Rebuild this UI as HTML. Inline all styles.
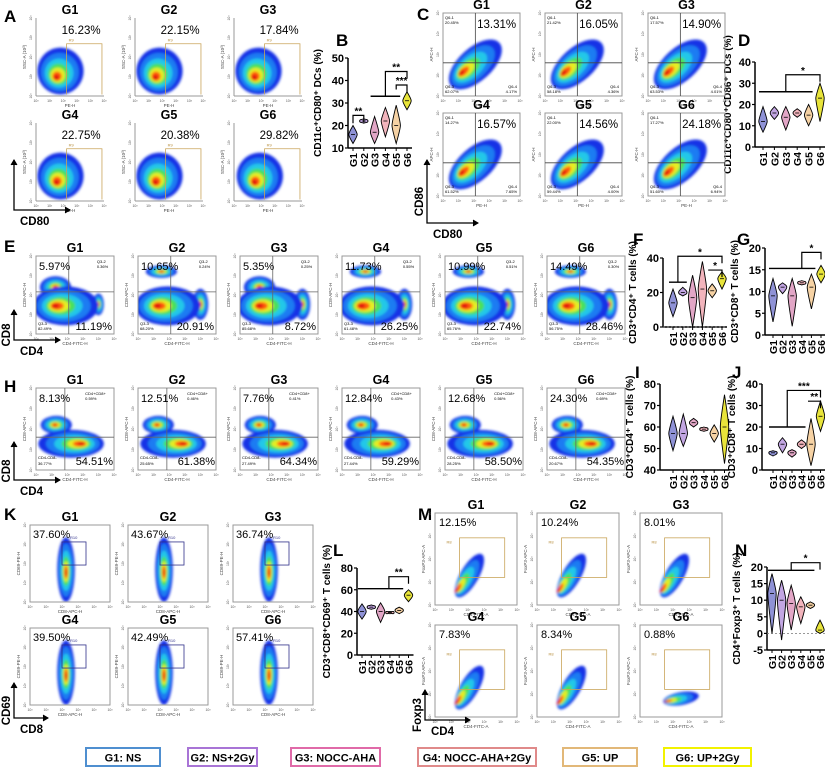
<!DOCTYPE html>
<html><head><meta charset="utf-8">
<style>
html,body{margin:0;padding:0;background:#fff;}
svg{display:block;font-family:"Liberation Sans",Arial,sans-serif;}
</style></head>
<body>
<svg id="fig" width="825" height="768" viewBox="0 0 825 768" xmlns="http://www.w3.org/2000/svg">
<defs>
<filter id="bl" x="-20%" y="-20%" width="140%" height="140%"><feGaussianBlur stdDeviation="1.2"/></filter>
</defs>
</svg>
<script>
// ---------- violin chart data ----------
const groups = ["G1","G2","G3","G4","G5","G6"];
const bMin=[12,21,12,15,12,27], bMax=[20,23,24,28,29,35], bMed=[16,22,17,22,20,31];
const dMin=[7,13,8,14,10,12], dMax=[19,19,19,18,20,30], dMed=[12,16,14,16,15,23];
const fMin=[6,18,0,0,17,22], fMax=[22,23,30,38,25,32], fMed=[14,20,17,22,21,28];
const gMin=[3,9.5,2,11.5,6,12], gMax=[13,12,13,12.5,14,16], gMed=[9,11,9,12,11,14];
const iMin=[49,51,60,58,53,43], iMax=[65,66,64,60,61,75], iMed=[57,57,62,59,57,60];
const jMin=[6.5,8,6,10,2,18], jMax=[9,15,9.5,14,24,32], jMed=[8,12,8,12,12,25];
const lMin=[33,42,30,38,38,49], lMax=[47,46,48,40,44,60], lMed=[40,44,40,39,41,55];
const nMin=[0,-2,1,3,7.5,0], nMax=[18,16,14.5,11,9.5,4], nMed=[12,10,9,8,8.5,1];
const bTicks=[10,20,30,40,50], dTicks=[0,10,20,30,40], fTicks=[0,20,40], gTicks=[0,5,10,15,20];
const iTicks=[40,50,60,70,80], jTicks=[0,10,20,30,40], lTicks=[0,20,40,60,80], nTicks=[-5,0,5,10,15,20];
// ---------- flow percentages ----------
const aPct=["16.23%","22.15%","17.84%","22.75%","20.38%","29.82%"];
const cPct=["13.31%","16.05%","14.90%","16.57%","14.56%","24.18%"];
const cQ1=["20.45%","21.42%","17.57%","14.27%","22.00%","17.27%"];
const cQ3=["62.07%","58.18%","63.53%","61.52%","59.44%","51.60%"];
const cQ4=["4.17%","4.36%","4.01%","7.65%","4.00%","6.94%"];
const eTL=["5.97%","10.65%","5.35%","11.73%","10.99%","14.49%"];
const eBR=["11.19%","20.91%","8.72%","26.25%","22.74%","28.46%"];
const eTR=["0.36%","0.24%","0.25%","0.55%","0.51%","0.30%"];
const eBL=["82.49%","68.20%","85.68%","61.48%","65.76%","56.75%"];
const hTL=["8.13%","12.51%","7.76%","12.84%","12.68%","24.30%"];
const hBR=["54.51%","61.38%","64.34%","59.29%","58.50%","54.35%"];
const hTR=["0.59%","0.46%","0.41%","0.43%","0.56%","0.69%"];
const hBL=["36.77%","25.65%","27.49%","27.44%","28.25%","20.67%"];
const kPct=["37.60%","43.67%","36.74%","39.50%","42.49%","57.41%"];
const mPct=["12.15%","10.24%","8.01%","7.83%","8.34%","0.88%"];
const legendLabels=["G1: NS","G2: NS+2Gy","G3: NOCC-AHA","G4: NOCC-AHA+2Gy","G5: UP","G6: UP+2Gy"];

const NS="http://www.w3.org/2000/svg";
const svg=document.getElementById('fig');
const vFill=["#8f92d6","#c2a6e2","#e2a6c6","#f2b4bc","#f6d2a4","#e8e43a"];
const legCol=["#4f8fd0","#a874d6","#e06aa8","#e08a8a","#e2b878","#f2f200"];
function el(tag,attrs,parent,text){const e=document.createElementNS(NS,tag);for(const k in attrs)e.setAttribute(k,attrs[k]);if(text!==undefined)e.textContent=text;(parent||svg).appendChild(e);return e;}
function txt(x,y,s,size,opts,parent){const o=Object.assign({x:x,y:y,'font-size':size,fill:'#000'},opts||{});return el('text',o,parent,s);}

// panel letters
[["A",4,22],["B",336,46],["C",417,20],["D",738,46],["E",4,252],["F",633,245],["G",737,245],["H",4,392],["I",635,378],["J",732,378],["K",4,520],["L",333,556],["M",418,520],["N",735,556]].forEach(p=>{
  const t=txt(p[1],p[2],p[0],17,{'font-weight':'bold'});
  
  
});

// ---------- violin charts ----------
function violin(id,ax,yTop,yBot,x0,step,ticks,mins,maxs,meds,title,sig,dotted,titleOff){
  const g=el('g',{},svg);
  
  
  const lo=ticks[0],hi=ticks[ticks.length-1];
  const Y=v=>yBot-(v-lo)/(hi-lo)*(yBot-yTop);
  const X=i=>x0+i*step;
  el('line',{x1:ax,y1:yTop,x2:ax,y2:yBot,stroke:'#000','stroke-width':1.5},g);
  el('line',{x1:ax,y1:yBot,x2:X(5)+5,y2:yBot,stroke:'#000','stroke-width':1.5},g);
  let maxw=0;
  ticks.forEach(t=>{
    el('line',{x1:ax-3,y1:Y(t),x2:ax,y2:Y(t),stroke:'#000','stroke-width':1.2},g);
    const tl=txt(ax-4,Y(t)+4,String(t),11,{'text-anchor':'end','font-weight':'bold'},g);
    
    
    maxw=Math.max(maxw,String(t).length);
  });
  if(dotted){el('line',{x1:ax,y1:Y(0),x2:X(5)+5,y2:Y(0),stroke:'#777','stroke-width':0.8,'stroke-dasharray':'2,2'},g);}
  groups.forEach((c,i)=>{
    el('line',{x1:X(i),y1:yBot,x2:X(i),y2:yBot+3,stroke:'#000'},g);
    const cl=txt(X(i)+4,yBot+5,c,10.5,{'font-weight':'bold','text-anchor':'end',transform:`rotate(-90 ${X(i)+4} ${yBot+5})`},g);
    
    
    const t=Y(maxs[i]),b=Y(mins[i]),m=Y(meds[i]);const w=4.2;
    const p=el('path',{d:`M${X(i)},${t} C${X(i)+w*0.6},${(t+m)/2} ${X(i)+w},${m-2} ${X(i)+w},${m} C${X(i)+w},${m+2} ${X(i)+w*0.6},${(m+b)/2} ${X(i)},${b} C${X(i)-w*0.6},${(m+b)/2} ${X(i)-w},${m+2} ${X(i)-w},${m} C${X(i)-w},${m-2} ${X(i)-w*0.6},${(t+m)/2} ${X(i)},${t}Z`,fill:vFill[i],stroke:'#000','stroke-width':0.9},g);
    
    
    el('line',{x1:X(i)-2,y1:m,x2:X(i)+2,y2:m,stroke:'#000','stroke-width':0.8},g);
  });
  const off=titleOff||(maxw*6.5+14);
  const yt=txt(0,0,title,10,{'font-weight':'bold','text-anchor':'middle',transform:`translate(${ax-off},${(yTop+yBot)/2}) rotate(-90)`},g);
  
  
  sig.forEach(s=>{
    if(s[0]==='line'){el('line',{x1:X(s[1])-4,y1:Y(s[3]),x2:X(s[2])+4,y2:Y(s[3]),stroke:'#000','stroke-width':1.4},g);}
    else{
      const xa=s[5]!==undefined?s[5]:X(s[1]);const yb=s[6]!==undefined?Y(s[6]):Y(s[3])+6;
      el('path',{d:`M${xa},${yb} V${Y(s[3])} H${X(s[2])} V${Y(s[3])+7}`,fill:'none',stroke:'#000','stroke-width':1.2},g);
      const st=txt((xa+X(s[2]))/2,Y(s[3])-1,s[4],10,{'text-anchor':'middle','font-weight':'bold'},g);
      
      
    }
  });
}
const sx=(x0,step,i)=>x0+i*step;
violin('b',348,58,148,353,10.8,bTicks,bMin,bMax,bMed,'CD11c\u207aCD80\u207a DCs (%)',
  [['br',0,1,24.5,'**',sx(353,10.8,0),21],['line',2,4,33],['br',3,5,44,'**',sx(353,10.8,3),33],['br',4,5,38,'***',sx(353,10.8,4),36]]);
violin('d',755,62,147,763,11.4,dTicks,dMin,dMax,dMed,'CD11c\u207aCD80\u207aCD86\u207a DCs (%)',
  [['line',0,4,26],['br',2,5,34,'*',sx(763,11.4,2),26]],false,24);
violin('f',663,258,327,673,9.8,fTicks,fMin,fMax,fMed,'CD3\u207aCD4\u207a T cells (%)',
  [['line',0,1,26],['br',0,5,41,'*',sx(673,9.8,0.5),26],['br',4,5,33,'*',sx(673,9.8,4)-4,33]],true);
violin('g',765,248,335,773,9.6,gTicks,gMin,gMax,gMed,'CD3\u207aCD8\u207a T cells (%)',
  [['line',0,4,15.3],['br',3,5,19,'*',sx(773,9.6,3),15.3]]);
violin('i',660,384,470,673,10.3,iTicks,iMin,iMax,iMed,'CD3\u207aCD4\u207a T cells (%)',[]);
violin('j',762,384,470,773,9.5,jTicks,jMin,jMax,jMed,'CD3\u207aCD8\u207a T cells (%)',
  [['line',0,3,20],['br',1.5,5,37,'***',sx(773,9.5,1.5),20],['br',4,5,32,'**',sx(773,9.5,4)-3,32]]);
violin('l',357,568,655,362,9.3,lTicks,lMin,lMax,lMed,'CD3\u207aCD8\u207aCD69\u207a T cells (%)',
  [['line',0,4,61],['br',3,5,72,'**',sx(362,9.3,3)-1,61]]);
violin('n',767,567,650,772,9.6,nTicks,nMin,nMax,nMed,'CD4\u207aFoxp3\u207a T cells (%)',
  [['line',0,4,19],['br',2,5,21.3,'*',sx(772,9.6,2),19]],true);

// ---------- flow plots ----------
const layerCols=["#1633e6","#1f7cf2","#22c8e8","#48e05a","#e6ee22","#ff5a10","#e01010"];
const layerScale=[1,0.82,0.62,0.45,0.32,0.2,0.11];
function blob(g,cx,cy,rx,ry,hx,hy,rot,sc){
  const n=layerCols.length;
  layerCols.forEach((c,k)=>{
    const f=k/(n-1);const s=layerScale[k]*(sc||1);
    const x=cx+(hx-cx)*f, y=cy+(hy-cy)*f;
    el('ellipse',{cx:x,cy:y,rx:rx*s,ry:ry*s,fill:c,transform:`rotate(${rot||0} ${x} ${y})`},g);
  });
}
function flowFrame(name,x,y,w,h,title,full,xl,yl){
  const g=el('g',{},svg);
  
  
  const t=txt(x+w/2,y-4,title,12.5,{'text-anchor':'middle','font-weight':'bold'},g);
  
  
  const cid='clip'+name;
  const cp=el('clipPath',{id:cid},g);el('rect',{x:x,y:y,width:w,height:h},cp);
  const bg=el('g',{filter:'url(#bl)','clip-path':`url(#${cid})`},g);
  if(full)el('rect',{x:x,y:y,width:w,height:h,fill:'none',stroke:'#999','stroke-width':1},g);
  else{el('line',{x1:x,y1:y,x2:x,y2:y+h,stroke:'#999'},g);el('line',{x1:x,y1:y+h,x2:x+w,y2:y+h,stroke:'#999'},g);}
  txt(x+w/2,y+h+11,xl,4.5,{'text-anchor':'middle',fill:'#444'},g);
  txt(0,0,yl,4.5,{'text-anchor':'middle',fill:'#444',transform:`translate(${x-10},${y+h/2}) rotate(-90)`},g);
  for(let k=0;k<6;k++){txt(x+k*w/5,y+h+6,'10\u00b3',3.5,{'text-anchor':'middle',fill:'#555'},g);}
  for(let k=0;k<5;k++){txt(0,0,'10\u00b3',3.5,{fill:'#555','text-anchor':'middle',transform:`translate(${x-4},${y+h-k*h/4}) rotate(-90)`},g);}
  return {g:g,bg:bg};
}
function arrowAxes(name,x,yTop,yBot,xRight,vlab,hlab){
  const g=el('g',{},svg);
  
  
  el('path',{d:`M${x},${yTop} V${yBot} H${xRight}`,fill:'none',stroke:'#000','stroke-width':1.3},g);
  el('path',{d:`M${x-3},${yTop+5} L${x},${yTop} L${x+3},${yTop+5}`,fill:'#000',stroke:'#000'},g);
  el('path',{d:`M${xRight-5},${yBot-3} L${xRight},${yBot} L${xRight-5},${yBot+3}`,fill:'#000',stroke:'#000'},g);
  txt(0,0,vlab,11.5,{'font-weight':'bold','text-anchor':'middle',transform:`translate(${x-4},${(yTop+yBot)/2+10}) rotate(-90)`},g);
  txt(x+6,yBot+15,hlab,11.5,{'font-weight':'bold'},g);
}

// Panel A
[[36,18],[135,18],[234,18],[36,123],[135,123],[234,123]].forEach((p,i)=>{
  const [x,y]=p,w=68,h=78;
  const f=flowFrame('flow-plot-a-g'+(i+1),x,y,w,h,groups[i],false,'PE-H','SSC-A (10\u00b3)');
  const cx=i===5?x+w*0.38:x+w*0.36;
  blob(f.bg,cx,y+h*0.68,w*0.34,h*0.3,x+w*0.3,y+h*0.76,0);
  el('path',{d:`M${x+w*0.45},${y+h*0.98} V${y+h*0.33} H${x+w*0.97} V${y+h*0.98}`,fill:'none',stroke:'#c9a55a','stroke-width':0.8},f.g);
  txt(x+w*0.45+2,y+h*0.3,'R9',4,{fill:'#b89040'},f.g);
  txt(x+w*0.95,y+16,aPct[i],11.5,{'text-anchor':'end'},f.g);
});
arrowAxes('axis-arrows-a',14,160,210,70,'','CD80');

// Panel C
[[443,13],[545,13],[648,13],[443,113],[545,113],[648,113]].forEach((p,i)=>{
  const [x,y]=p,w=77,h=83;
  const f=flowFrame('flow-plot-c-g'+(i+1),x,y,w,h,groups[i],true,'PE-H','APC-H');
  blob(f.bg,x+w*0.42,y+h*0.62,w*0.42,h*0.2,x+w*0.24,y+h*0.72,-42);
  el('line',{x1:x+w*0.42,y1:y,x2:x+w*0.42,y2:y+h,stroke:'#444','stroke-width':0.8},f.g);
  el('line',{x1:x,y1:y+h*0.6,x2:x+w,y2:y+h*0.6,stroke:'#444','stroke-width':0.8},f.g);
  txt(x+w*0.95,y+15,cPct[i],11.5,{'text-anchor':'end'},f.g);
  txt(x+2,y+6,'Q6-1',4,{},f.g);txt(x+2,y+11,cQ1[i],4,{},f.g);
  txt(x+2,y+h-8,'Q6-3',4,{},f.g);txt(x+2,y+h-3,cQ3[i],4,{},f.g);
  txt(x+w-3,y+h-8,'Q6-4',4,{'text-anchor':'end'},f.g);txt(x+w-3,y+h-3,cQ4[i],4,{'text-anchor':'end'},f.g);
});
arrowAxes('axis-arrows-c',427,160,223,478,'CD86','CD80');

// Panel E
const colX=[36,138,240,342,445,547];
colX.forEach((x,i)=>{
  const y=256,w=78,h=78;
  const f=flowFrame('flow-plot-e-g'+(i+1),x,y,w,h,groups[i],true,'CD4-FITC-H','CD8-APC-H');
  if(i===0||i===2){blob(f.bg,x+w*0.25,y+h*0.4,w*0.2,h*0.14,x+w*0.25,y+h*0.4,0,1);}
  else blob(f.bg,x+w*0.3,y+h*0.2,w*0.2,h*0.08,x+w*0.3,y+h*0.2,0,1);
  blob(f.bg,x+w*0.8,y+h*0.62,w*0.1,h*0.2,x+w*0.8,y+h*0.62,0,i===0?0.7:1);
  blob(f.bg,x+w*0.38,y+h*0.64,w*0.42,h*0.25,x+w*0.25,y+h*0.64,0);
  el('line',{x1:x+w*0.42,y1:y,x2:x+w*0.42,y2:y+h,stroke:'#666','stroke-width':0.8},f.g);
  el('line',{x1:x,y1:y+h*0.46,x2:x+w,y2:y+h*0.46,stroke:'#666','stroke-width':0.8},f.g);
  txt(x+3,y+14,eTL[i],11,{},f.g);
  txt(x+w-2,y+h-4,eBR[i],11,{'text-anchor':'end'},f.g);
  txt(x+w*0.78,y+7,'Q3-2',4,{},f.g);txt(x+w*0.78,y+12,eTR[i],4,{},f.g);
  txt(x+2,y+h-9,'Q3-3',4,{},f.g);txt(x+2,y+h-4,eBL[i],4,{},f.g);
});
arrowAxes('axis-arrows-e',14,310,340,60,'CD8','CD4');

// Panel H
colX.forEach((x,i)=>{
  const y=388,w=78,h=82;
  const f=flowFrame('flow-plot-h-g'+(i+1),x,y,w,h,groups[i],true,'CD4-FITC-H','CD8-APC-H');
  blob(f.bg,x+w*0.26,y+h*0.45,w*0.2,h*0.11,x+w*0.24,y+h*0.45,0);
  blob(f.bg,x+w*0.45,y+h*0.68,w*0.42,h*0.17,x+w*0.58,y+h*0.68,0);
  el('line',{x1:x+w*0.37,y1:y,x2:x+w*0.37,y2:y+h,stroke:'#666','stroke-width':0.8},f.g);
  el('line',{x1:x,y1:y+h*0.6,x2:x+w,y2:y+h*0.6,stroke:'#666','stroke-width':0.8},f.g);
  txt(x+3,y+14,hTL[i],11,{},f.g);
  txt(x+w-1,y+h-5,hBR[i],11,{'text-anchor':'end'},f.g);
  txt(x+w*0.63,y+7,'CD4+CD8+',4,{},f.g);txt(x+w*0.63,y+12,hTR[i],4,{},f.g);
  txt(x+2,y+h-11,'CD4-CD8-',4,{},f.g);txt(x+2,y+h-5,hBL[i],4,{},f.g);
});
arrowAxes('axis-arrows-h',14,442,480,60,'CD8','CD4');

// Panel K
[[30,525],[128,525],[233,525],[30,628],[128,628],[233,628]].forEach((p,i)=>{
  const [x,y]=p,w=80,h=77;
  const f=flowFrame('flow-plot-k-g'+(i+1),x,y,w,h,groups[i],true,'CD8-APC-H','CD69-PE-H');
  blob(f.bg,x+w*0.45,y+h*0.58,w*0.11,h*0.42,x+w*0.45,y+h*0.62,0);
  el('rect',{x:x+w*0.4,y:y+h*0.22,width:w*0.3,height:h*0.3,fill:'none',stroke:'#30308a','stroke-width':0.8},f.g);
  txt(x+w*0.5,y+h*0.18,'R10',4,{fill:'#30308a'},f.g);
  txt(x+3,y+13,kPct[i],11,{},f.g);
});
arrowAxes('axis-arrows-k',14,683,718,48,'CD69','CD8');

// Panel M
[[435,513],[537,513],[640,513],[435,625],[537,625],[640,625]].forEach((p,i)=>{
  const [x,y]=p,w=82,h=92;
  const f=flowFrame('flow-plot-m-g'+(i+1),x,y,w,h,groups[i],true,'CD4-FITC-A','FoxP3-APC-A');
  if(i===5) blob(f.bg,x+w*0.5,y+h*0.8,w*0.22,h*0.07,x+w*0.32,y+h*0.83,-10);
  else blob(f.bg,x+w*0.42,y+h*0.68,w*0.3,h*0.1,x+w*0.26,y+h*0.84,-60);
  el('rect',{x:x+w*0.3,y:y+h*0.27,width:w*0.55,height:h*0.43,fill:'none',stroke:'#c9a55a','stroke-width':0.8},f.g);
  txt(x+w*0.14,y+h*0.33,'R8',4,{fill:'#b89040'},f.g);
  txt(x+4,y+13,mPct[i],11,{},f.g);
});
arrowAxes('axis-arrows-m',425,690,720,470,'Foxp3','CD4');

// legend
const legX=[86,188,291,418,563,664], legW=[74,69,89,118,74,87];
legendLabels.forEach((s,i)=>{
  const g=el('g',{},svg);
  
  
  el('rect',{x:legX[i],y:748,width:legW[i],height:18,fill:'#fff',stroke:legCol[i],'stroke-width':2},g);
  txt(legX[i]+legW[i]/2,761.5,s,11,{'text-anchor':'middle','font-weight':'bold'},g);
});
</script>
</body></html>
